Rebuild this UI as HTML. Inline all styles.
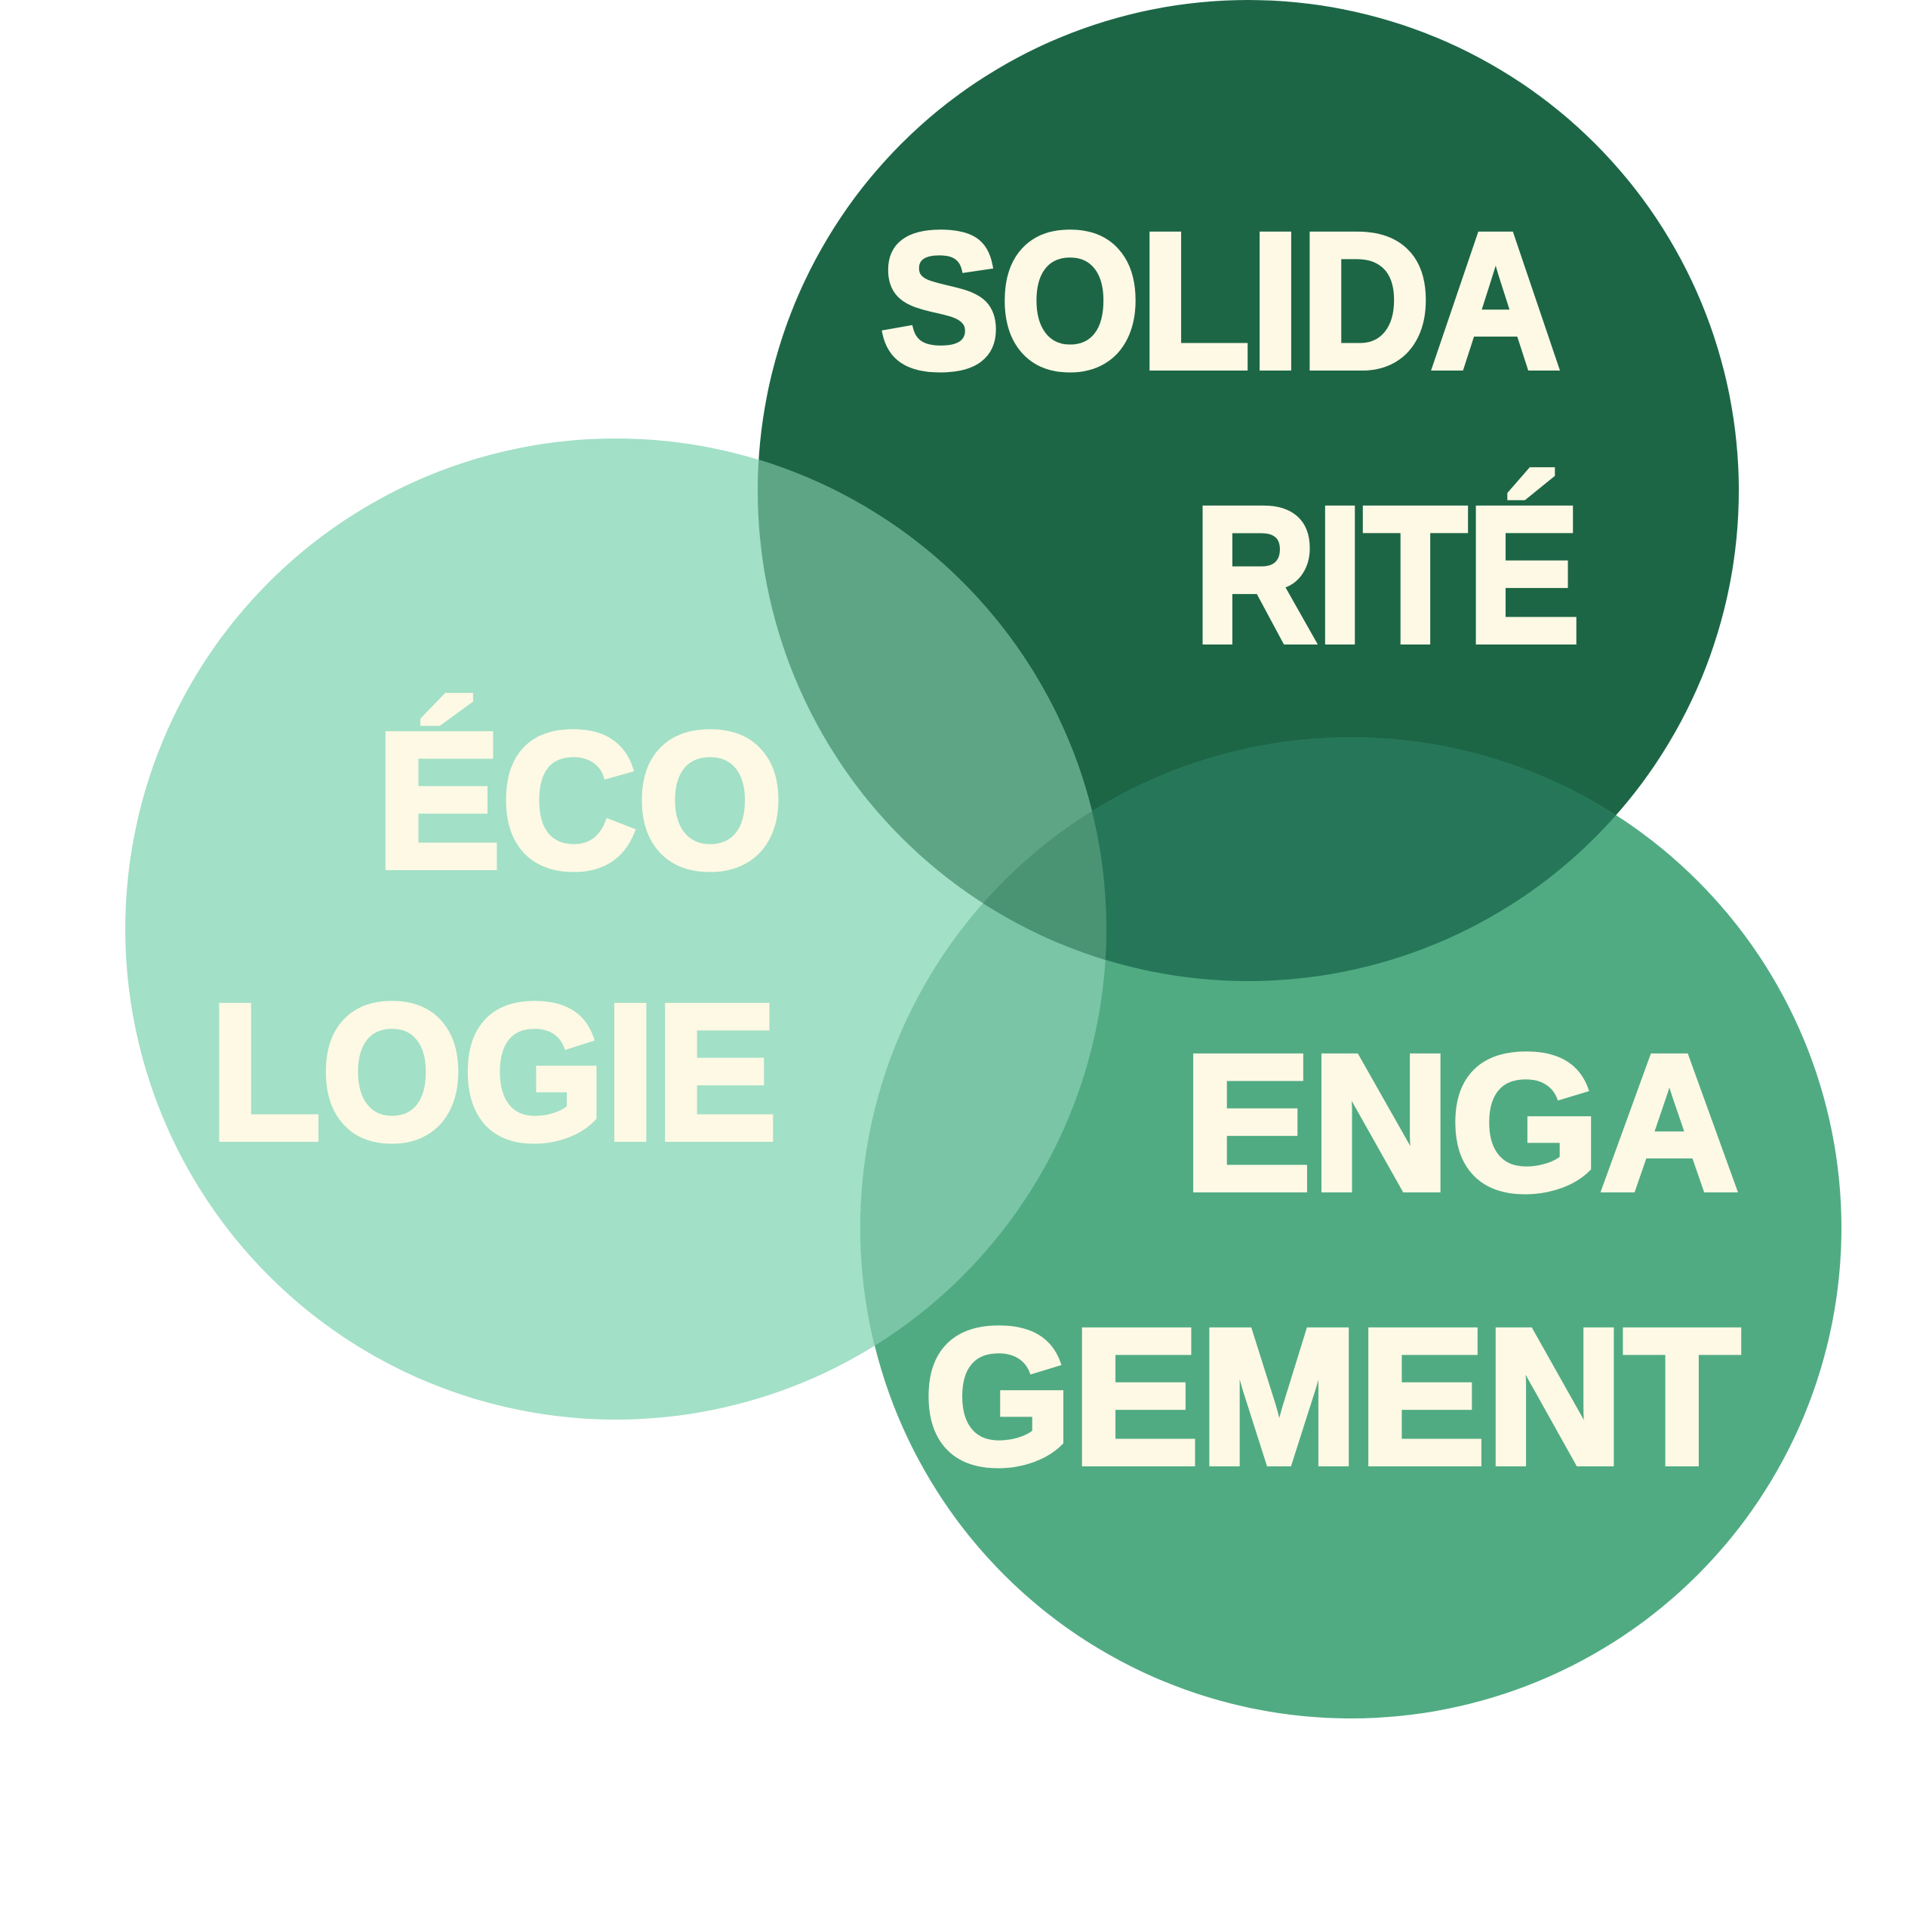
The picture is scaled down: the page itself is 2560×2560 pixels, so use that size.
<!DOCTYPE html>
<html><head><meta charset="utf-8"><style>
html,body{margin:0;padding:0;background:#fff;width:2560px;height:2560px;overflow:hidden}
text{font-family:"Liberation Sans",sans-serif;font-weight:bold;fill:#fef9e4;stroke:#fef9e4;stroke-width:8;stroke-linejoin:miter;font-size:256px}
</style></head><body>
<svg width="2560" height="2560" viewBox="0 0 2560 2560" xmlns="http://www.w3.org/2000/svg">
<defs>
<clipPath id="cD"><circle cx="1654" cy="650" r="650"/></clipPath>
<clipPath id="cL"><circle cx="816" cy="1231" r="650"/></clipPath>
</defs>
<circle cx="1654" cy="650" r="650" fill="#1c6646"/>
<circle cx="816" cy="1231" r="650" fill="#a2e0c7"/>
<circle cx="1790" cy="1627" r="650" fill="#50ab83"/>
<g clip-path="url(#cD)"><circle cx="816" cy="1231" r="650" fill="#5ea585"/></g>
<g clip-path="url(#cL)"><circle cx="1790" cy="1627" r="650" fill="#7ac5a6"/></g>
<g clip-path="url(#cD)"><circle cx="1790" cy="1627" r="650" fill="#26775a"/></g>
<g clip-path="url(#cD)"><g clip-path="url(#cL)"><circle cx="1790" cy="1627" r="650" fill="#4a9474"/></g></g>
<text x="1166" y="487" textLength="902" lengthAdjust="spacingAndGlyphs">SOLIDA</text>
<text x="1582" y="850" textLength="512" lengthAdjust="spacingAndGlyphs">RITÉ</text>
<text x="498" y="1149" textLength="540" lengthAdjust="spacingAndGlyphs">ÉCO</text>
<text x="278" y="1509" textLength="752" lengthAdjust="spacingAndGlyphs">LOGIE</text>
<text x="1568" y="1576" textLength="736" lengthAdjust="spacingAndGlyphs">ENGA</text>
<text x="1224" y="1939" textLength="1082" lengthAdjust="spacingAndGlyphs">GEMENT</text>
</svg>
</body></html>
